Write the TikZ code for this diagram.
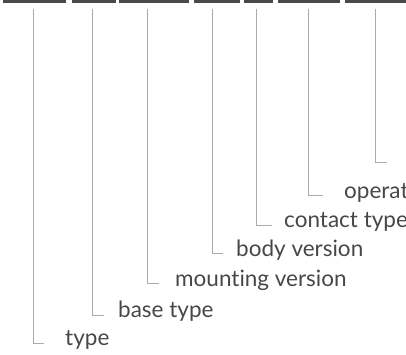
\documentclass[tikz,border=0pt]{standalone}
\usepackage{fontspec}
\setmainfont{Lato}[Ligatures={NoCommon}]
\definecolor{bar}{HTML}{4A4A4A}
\definecolor{lead}{HTML}{ABABAB}
\definecolor{txt}{HTML}{474747}
\begin{document}
\begin{tikzpicture}[x=1pt,y=-1pt,
  seg/.style={fill=bar,draw=none},
  leader/.style={draw=lead,line width=1pt},
  lbl/.style={anchor=mid west,inner sep=0pt,text=txt,font=\fontsize{22.5}{26}\selectfont}]
\useasboundingbox (0,0) rectangle (406,354);
\clip (0,0) rectangle (406,354);
% bars
\fill[seg] (3,0) rectangle (65.8,3);
\fill[seg] (72,0) rectangle (115.8,3);
\fill[seg] (119,0) rectangle (188.8,3);
\fill[seg] (194,0) rectangle (239.8,3);
\fill[seg] (244,0) rectangle (272.8,3);
\fill[seg] (278,0) rectangle (340,3);
\fill[seg] (345,0) rectangle (406,3);
% top points
\coordinate (t1) at (33.7,9.3);
\coordinate (t2) at (92.7,9.3);
\coordinate (t3) at (147.7,9.3);
\coordinate (t4) at (212.7,9.3);
\coordinate (t5) at (256.7,9.3);
\coordinate (t6) at (308.7,9.3);
\coordinate (t7) at (375,9.3);
% labels
\node[lbl] (l1) at (65,343) {type};
\node[lbl] (l2) at (118,315) {base type};
\node[lbl] (l3) at (175,283.5) {mounting version};
\node[lbl] (l4) at (236,253.5) {body version};
\node[lbl] (l5) at (284,225) {contact type};
\node[lbl] (l6) at (344,195.5) {operat};
\coordinate (l7) at (387,162);
% leaders
\draw[leader] (t1) |- (44.3,343);
\draw[leader] (t2) |- (104,315);
\draw[leader] (t3) |- (159,283.5);
\draw[leader] (t4) |- (223,253.5);
\draw[leader] (t5) |- (272,225);
\draw[leader] (t6) |- (323,195.5);
\draw[leader] (t7) |- (l7);
\end{tikzpicture}
\end{document}
